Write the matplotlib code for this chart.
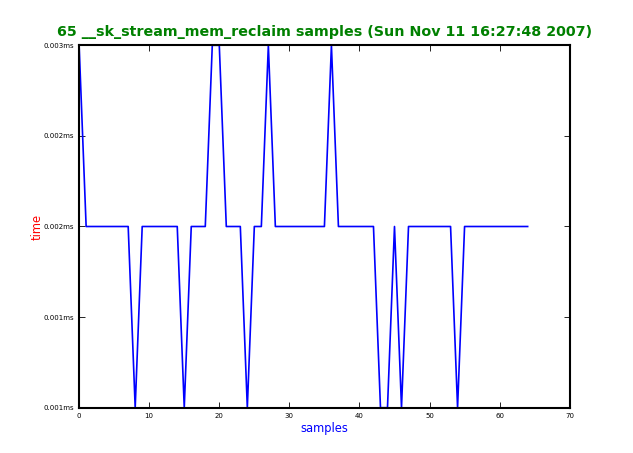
import matplotlib
matplotlib.use("Agg")
import matplotlib.pyplot as plt

samples = list(range(65))
# values in ms
times = [0.003,
         0.002, 0.002, 0.002, 0.002, 0.002, 0.002, 0.002,
         0.001,
         0.002, 0.002, 0.002, 0.002, 0.002, 0.002,
         0.001,
         0.002, 0.002, 0.002,
         0.003, 0.003,
         0.002, 0.002, 0.002,
         0.001,
         0.002, 0.002,
         0.003,
         0.002, 0.002, 0.002, 0.002, 0.002, 0.002, 0.002, 0.002,
         0.003,
         0.002, 0.002, 0.002, 0.002, 0.002, 0.002,
         0.001, 0.001,
         0.002,
         0.001,
         0.002, 0.002, 0.002, 0.002, 0.002, 0.002, 0.002,
         0.001,
         0.002, 0.002, 0.002, 0.002, 0.002, 0.002, 0.002, 0.002, 0.002, 0.002]

ytick_values = [0.001, 0.0015, 0.002, 0.0025, 0.003]
ytick_labels = ["0.001ms", "0.001ms", "0.002ms", "0.002ms", "0.003ms"]
xtick_values = [0, 10, 20, 30, 40, 50, 60, 70]

title = "65 __sk_stream_mem_reclaim samples (Sun Nov 11 16:27:48 2007)"

fig = plt.figure(figsize=(6.33, 4.53), dpi=100)
ax = fig.add_axes([0.125, 0.1, 0.775, 0.8])
ax.plot(samples, times, color="blue", linewidth=1.2)
ax.set_xlim(0, 70)
ax.set_ylim(0.001, 0.003)
ax.set_xticks(xtick_values)
ax.set_xticklabels([str(v) for v in xtick_values])
ax.set_yticks(ytick_values)
ax.set_yticklabels(ytick_labels)
ax.tick_params(direction="in", length=4, labelsize=5, top=True, right=True, width=0.6)
ax.tick_params(axis="x", pad=4)
for s in ax.spines.values():
    s.set_linewidth(1.5)
ax.set_title(title, color="green", fontweight="bold", fontsize=10.3, pad=7)
ax.set_xlabel("samples", color="blue", fontsize=8.3, labelpad=2)
ax.set_ylabel("time", color="red", fontsize=8.3, labelpad=0)
fig.savefig("out.png", dpi=100)
